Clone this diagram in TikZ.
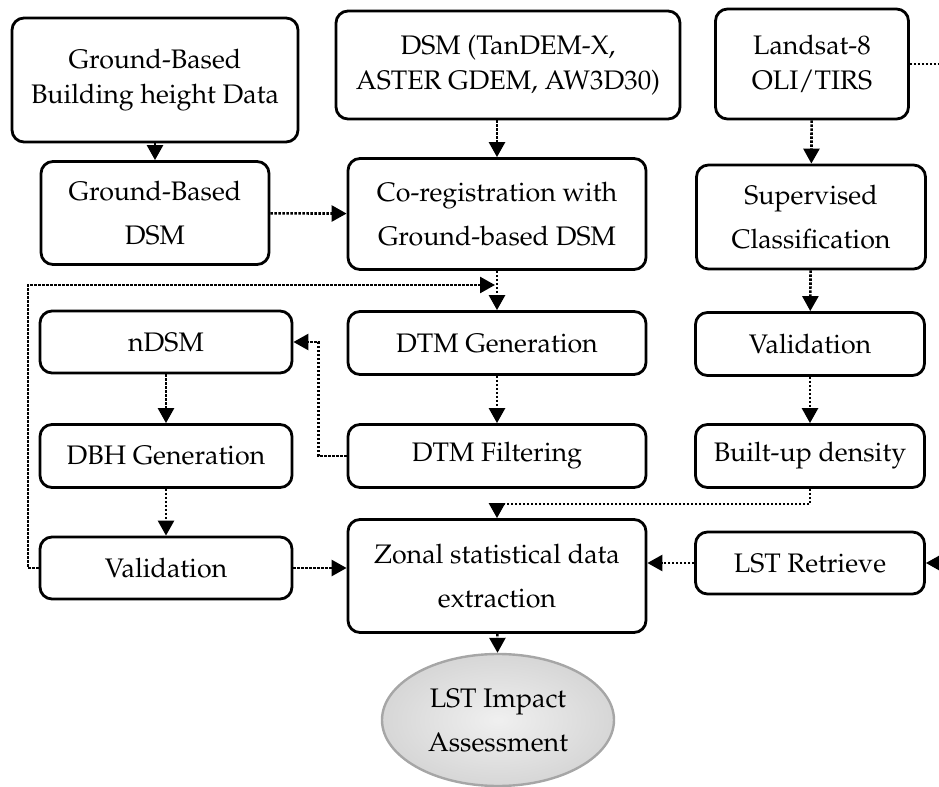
\documentclass[tikz,border=0pt]{standalone}
\usepackage[T1]{fontenc}
\usepackage{mathpazo}
\usetikzlibrary{arrows.meta,shapes.geometric}

\begin{document}
\begin{tikzpicture}[x=0.5pt,y=-0.5pt,
  box/.style={draw,line width=1.4pt,rounded corners=6pt,align=center,inner sep=0pt,font=\fontsize{13.4}{17.5}\selectfont},
  loose/.style={font=\fontsize{13.4}{22}\selectfont},
  dotline/.style={line width=1.3pt,dash pattern=on 1.2pt off 0.8pt},
  flow/.style={dotline,-{Triangle[length=7.5pt,width=8pt]}}]
\useasboundingbox (0,0) rectangle (939,787);

% first row
\node[box,minimum width=143pt,minimum height=62pt] (gbdata) at (155,80) {Ground-Based\\Building height Data};
\node[box,minimum width=172pt,minimum height=54pt] (dsm) at (508,65) {DSM (TanDEM-X,\\ASTER GDEM, AW3D30)};
\node[box,minimum width=96.5pt,minimum height=55pt] (landsat) at (812,64) {Landsat-8\\OLI/TIRS};

% second row
\node[box,loose,minimum width=114pt,minimum height=51.5pt] (gbdsm) at (155,213) {Ground-Based\\DSM};
\node[box,loose,minimum width=149pt,minimum height=55.5pt] (coreg) at (497,214) {Co-registration with\\Ground-based DSM};
\node[box,loose,minimum width=114.5pt,minimum height=52pt] (superv) at (811,217) {Supervised\\Classification};

% middle rows
\node[box,minimum width=126pt,minimum height=31pt] (ndsm) at (166,342) {nDSM};
\node[box,minimum width=149pt,minimum height=31.5pt] (dtmgen) at (497,343) {DTM Generation};
\node[box,minimum width=114.5pt,minimum height=31.5pt] (valsat) at (810,344) {Validation};
\node[box,minimum width=126pt,minimum height=31.5pt] (dbh) at (166,456) {DBH Generation};
\node[box,minimum width=149pt,minimum height=31.5pt] (dtmfilt) at (497,456) {DTM Filtering};
\node[box,minimum width=114.5pt,minimum height=31.5pt] (builtup) at (810,456) {Built-up density};

% bottom rows
\node[box,minimum width=126pt,minimum height=31pt] (valdbh) at (166,568) {Validation};
\node[box,loose,minimum width=149pt,minimum height=56.5pt] (zonal) at (497,576) {Zonal statistical data\\extraction};
\node[box,minimum width=114.5pt,minimum height=31pt] (lstret) at (810,563) {LST Retrieve};
\node[ellipse,draw=gray!70,line width=1.2pt,inner color=gray!12,outer color=gray!32,
  minimum width=116pt,minimum height=66pt,inner sep=0pt,align=center,
  font=\fontsize{13.4}{22}\selectfont] (impact) at (498,720) {LST Impact\\Assessment};

\coordinate (join) at (495,285);
\coordinate (edgeA) at (939,64);
\coordinate (edgeB) at (939,563);

% connectors
\draw[flow] (gbdata) -- (gbdsm);
\draw[flow] (dsm.south -| coreg.north) -- (coreg.north);
\draw[flow] (landsat) -- (superv);
\draw[flow] (gbdsm) -- (coreg);
\draw[flow] (coreg) -- (dtmgen);
\draw[flow] (dtmgen) -- (dtmfilt);
\draw[flow] (superv) -- (valsat);
\draw[flow] (valsat) -- (builtup);
\draw[flow] (ndsm) -- (dbh);
\draw[flow] (dbh) -- (valdbh);
\draw[flow] (dtmfilt.west) -- ++(-28,0) |- (ndsm.east);
\draw[flow] (valdbh.west) -| (28,285) -- (join);
\draw[flow] (builtup.south) -- ++(0,15) -| (zonal.north);
\draw[flow] (valdbh.east) -- (valdbh.east -| zonal.west);
\draw[flow] (lstret.west) -- (lstret.west -| zonal.east);
\draw[flow] (zonal) -- (impact);
\draw[dotline] (landsat.east) -- (edgeA);
\draw[flow] (edgeB) -- (lstret.east);
\end{tikzpicture}
\end{document}
